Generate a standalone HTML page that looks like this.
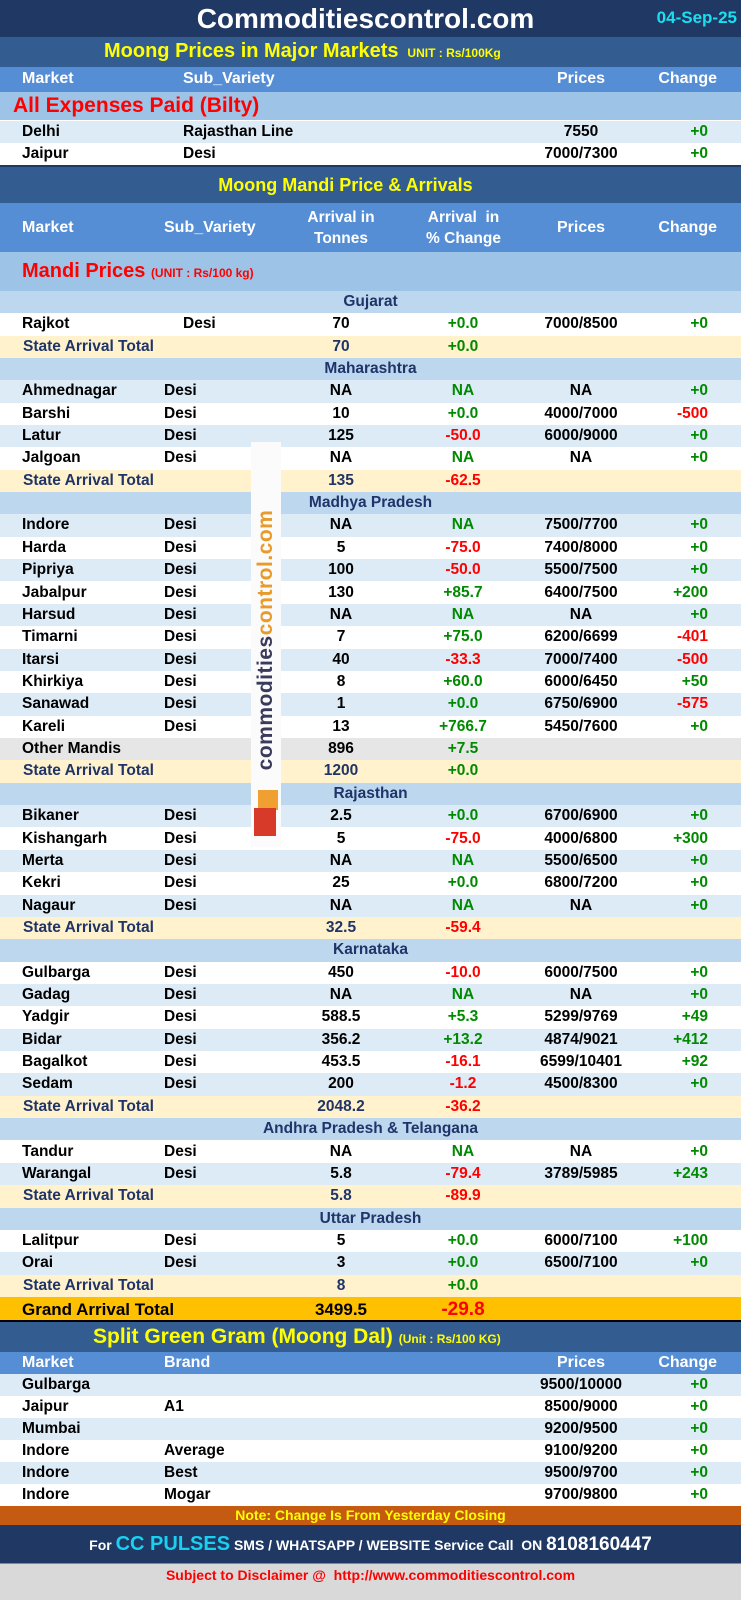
<!DOCTYPE html>
<html><head><meta charset="utf-8"><style>
*{margin:0;padding:0;box-sizing:border-box}
body{width:741px;height:1600px;position:relative;background:#fff;font-family:"Liberation Sans",Arial,sans-serif;font-weight:bold;overflow:hidden}
.b{position:absolute;left:0;width:741px}
.r{position:absolute;left:0;width:741px;height:22.4px;font-size:15.5px;line-height:22.4px;color:#000}
.r span{position:absolute;top:0;white-space:nowrap}
.m{left:22px}.s{left:164px}.s2{left:183px}
.a{left:271px;width:140px;text-align:center}
.p{left:393px;width:140px;text-align:center}
.pr{left:506px;width:150px;text-align:center}
.c{left:620px;width:88px;text-align:right}
.hp{left:506px;width:150px;text-align:center}
.hc{left:620px;width:97px;text-align:right}
.g{color:#008a00}.d{color:#ff0000}.n{color:#1f3468}
.W{background:#fff}.L{background:#ddebf7}.T{background:#fff2cc}.H{background:#bdd7ee}.G{background:#e7e6e6}
.H span{left:0;width:741px;text-align:center;color:#1f3468}
.hd{color:#fff;font-size:16px}
</style></head><body>
<div class="b" style="top:0;height:37px;background:#203864"></div>
<div class="b" style="top:2px;text-align:center;color:#fff;font-size:28px;line-height:34px;padding-right:10px">Commoditiescontrol.com</div>
<div style="position:absolute;right:4px;top:8px;color:#19e0f0;font-size:17px">04-Sep-25</div>
<div class="b" style="top:37px;height:30px;background:#335c91"></div>
<div style="position:absolute;left:104px;top:40px;color:#ffff00;font-size:20px">Moong Prices in Major Markets <span style="font-size:12px">&nbsp;UNIT : Rs/100Kg</span></div>
<div class="b" style="top:67px;height:25px;background:#568ed6"></div>
<div class="r hd" style="top:68px"><span class="m">Market</span><span class="s2">Sub_Variety</span><span class="hp">Prices</span><span class="hc">Change</span></div>
<div class="b" style="top:92px;height:28px;background:#9dc3e6"></div>
<div style="position:absolute;left:13px;top:94px;color:#ff0000;font-size:21px">All Expenses Paid (Bilty)</div>
<div class="r L" style="top:121px"><span class="m">Delhi</span><span class="s2">Rajasthan Line</span><span class="pr">7550</span><span class="c g">+0</span></div>
<div class="r W" style="top:143px"><span class="m">Jaipur</span><span class="s2">Desi</span><span class="pr">7000/7300</span><span class="c g">+0</span></div>
<div class="b" style="top:165px;height:2px;background:#203864"></div>
<div class="b" style="top:167px;height:36px;background:#335c91"></div>
<div class="b" style="top:175px;text-align:center;color:#ffff00;font-size:18px;padding-right:50px">Moong Mandi Price &amp; Arrivals</div>
<div class="b" style="top:203px;height:49px;background:#568ed6"></div>
<div class="r hd" style="top:217px"><span class="m">Market</span><span class="s">Sub_Variety</span><span class="hp">Prices</span><span class="hc">Change</span></div>
<div class="hd" style="position:absolute;left:281px;width:120px;top:207px;text-align:center;line-height:21px;font-size:15.5px">Arrival in<br>Tonnes</div>
<div class="hd" style="position:absolute;left:396px;width:135px;top:207px;text-align:center;line-height:21px;font-size:15.5px">Arrival&nbsp; in<br>% Change</div>
<div class="b" style="top:252px;height:39px;background:#9dc3e6"></div>
<div style="position:absolute;left:22px;top:260px;color:#ff0000;font-size:20px">Mandi Prices <span style="font-size:12px">(UNIT : Rs/100 kg)</span></div>

<div class="r H" style="top:290.8px"><span>Gujarat</span></div>
<div class="r W" style="top:313.2px"><span class="m">Rajkot</span><span class="s2">Desi</span><span class="a">70</span><span class="p g">+0.0</span><span class="pr">7000/8500</span><span class="c g">+0</span></div>
<div class="r T" style="top:335.5px"><span class="m n" style="left:23px">State Arrival Total</span><span class="a n">70</span><span class="p g">+0.0</span></div>
<div class="r H" style="top:357.9px"><span>Maharashtra</span></div>
<div class="r L" style="top:380.3px"><span class="m">Ahmednagar</span><span class="s">Desi</span><span class="a">NA</span><span class="p g">NA</span><span class="pr">NA</span><span class="c g">+0</span></div>
<div class="r W" style="top:402.6px"><span class="m">Barshi</span><span class="s">Desi</span><span class="a">10</span><span class="p g">+0.0</span><span class="pr">4000/7000</span><span class="c d">-500</span></div>
<div class="r L" style="top:425px"><span class="m">Latur</span><span class="s">Desi</span><span class="a">125</span><span class="p d">-50.0</span><span class="pr">6000/9000</span><span class="c g">+0</span></div>
<div class="r W" style="top:447.3px"><span class="m">Jalgoan</span><span class="s">Desi</span><span class="a">NA</span><span class="p g">NA</span><span class="pr">NA</span><span class="c g">+0</span></div>
<div class="r T" style="top:469.7px"><span class="m n" style="left:23px">State Arrival Total</span><span class="a n">135</span><span class="p d">-62.5</span></div>
<div class="r H" style="top:492.1px"><span>Madhya Pradesh</span></div>
<div class="r L" style="top:514.4px"><span class="m">Indore</span><span class="s">Desi</span><span class="a">NA</span><span class="p g">NA</span><span class="pr">7500/7700</span><span class="c g">+0</span></div>
<div class="r W" style="top:536.8px"><span class="m">Harda</span><span class="s">Desi</span><span class="a">5</span><span class="p d">-75.0</span><span class="pr">7400/8000</span><span class="c g">+0</span></div>
<div class="r L" style="top:559.1px"><span class="m">Pipriya</span><span class="s">Desi</span><span class="a">100</span><span class="p d">-50.0</span><span class="pr">5500/7500</span><span class="c g">+0</span></div>
<div class="r W" style="top:581.5px"><span class="m">Jabalpur</span><span class="s">Desi</span><span class="a">130</span><span class="p g">+85.7</span><span class="pr">6400/7500</span><span class="c g">+200</span></div>
<div class="r L" style="top:603.9px"><span class="m">Harsud</span><span class="s">Desi</span><span class="a">NA</span><span class="p g">NA</span><span class="pr">NA</span><span class="c g">+0</span></div>
<div class="r W" style="top:626.2px"><span class="m">Timarni</span><span class="s">Desi</span><span class="a">7</span><span class="p g">+75.0</span><span class="pr">6200/6699</span><span class="c d">-401</span></div>
<div class="r L" style="top:648.6px"><span class="m">Itarsi</span><span class="s">Desi</span><span class="a">40</span><span class="p d">-33.3</span><span class="pr">7000/7400</span><span class="c d">-500</span></div>
<div class="r W" style="top:670.9px"><span class="m">Khirkiya</span><span class="s">Desi</span><span class="a">8</span><span class="p g">+60.0</span><span class="pr">6000/6450</span><span class="c g">+50</span></div>
<div class="r L" style="top:693.3px"><span class="m">Sanawad</span><span class="s">Desi</span><span class="a">1</span><span class="p g">+0.0</span><span class="pr">6750/6900</span><span class="c d">-575</span></div>
<div class="r W" style="top:715.7px"><span class="m">Kareli</span><span class="s">Desi</span><span class="a">13</span><span class="p g">+766.7</span><span class="pr">5450/7600</span><span class="c g">+0</span></div>
<div class="r G" style="top:738px"><span class="m">Other Mandis</span><span class="a">896</span><span class="p g">+7.5</span></div>
<div class="r T" style="top:760.4px"><span class="m n" style="left:23px">State Arrival Total</span><span class="a n">1200</span><span class="p g">+0.0</span></div>
<div class="r H" style="top:782.7px"><span>Rajasthan</span></div>
<div class="r L" style="top:805.1px"><span class="m">Bikaner</span><span class="s">Desi</span><span class="a">2.5</span><span class="p g">+0.0</span><span class="pr">6700/6900</span><span class="c g">+0</span></div>
<div class="r W" style="top:827.5px"><span class="m">Kishangarh</span><span class="s">Desi</span><span class="a">5</span><span class="p d">-75.0</span><span class="pr">4000/6800</span><span class="c g">+300</span></div>
<div class="r L" style="top:849.8px"><span class="m">Merta</span><span class="s">Desi</span><span class="a">NA</span><span class="p g">NA</span><span class="pr">5500/6500</span><span class="c g">+0</span></div>
<div class="r W" style="top:872.2px"><span class="m">Kekri</span><span class="s">Desi</span><span class="a">25</span><span class="p g">+0.0</span><span class="pr">6800/7200</span><span class="c g">+0</span></div>
<div class="r L" style="top:894.5px"><span class="m">Nagaur</span><span class="s">Desi</span><span class="a">NA</span><span class="p g">NA</span><span class="pr">NA</span><span class="c g">+0</span></div>
<div class="r T" style="top:916.9px"><span class="m n" style="left:23px">State Arrival Total</span><span class="a n">32.5</span><span class="p d">-59.4</span></div>
<div class="r H" style="top:939.3px"><span>Karnataka</span></div>
<div class="r W" style="top:961.6px"><span class="m">Gulbarga</span><span class="s">Desi</span><span class="a">450</span><span class="p d">-10.0</span><span class="pr">6000/7500</span><span class="c g">+0</span></div>
<div class="r L" style="top:984px"><span class="m">Gadag</span><span class="s">Desi</span><span class="a">NA</span><span class="p g">NA</span><span class="pr">NA</span><span class="c g">+0</span></div>
<div class="r W" style="top:1006.3px"><span class="m">Yadgir</span><span class="s">Desi</span><span class="a">588.5</span><span class="p g">+5.3</span><span class="pr">5299/9769</span><span class="c g">+49</span></div>
<div class="r L" style="top:1028.7px"><span class="m">Bidar</span><span class="s">Desi</span><span class="a">356.2</span><span class="p g">+13.2</span><span class="pr">4874/9021</span><span class="c g">+412</span></div>
<div class="r W" style="top:1051.1px"><span class="m">Bagalkot</span><span class="s">Desi</span><span class="a">453.5</span><span class="p d">-16.1</span><span class="pr">6599/10401</span><span class="c g">+92</span></div>
<div class="r L" style="top:1073.4px"><span class="m">Sedam</span><span class="s">Desi</span><span class="a">200</span><span class="p d">-1.2</span><span class="pr">4500/8300</span><span class="c g">+0</span></div>
<div class="r T" style="top:1095.8px"><span class="m n" style="left:23px">State Arrival Total</span><span class="a n">2048.2</span><span class="p d">-36.2</span></div>
<div class="r H" style="top:1118.1px"><span>Andhra Pradesh &amp; Telangana</span></div>
<div class="r W" style="top:1140.5px"><span class="m">Tandur</span><span class="s">Desi</span><span class="a">NA</span><span class="p g">NA</span><span class="pr">NA</span><span class="c g">+0</span></div>
<div class="r L" style="top:1162.9px"><span class="m">Warangal</span><span class="s">Desi</span><span class="a">5.8</span><span class="p d">-79.4</span><span class="pr">3789/5985</span><span class="c g">+243</span></div>
<div class="r T" style="top:1185.2px"><span class="m n" style="left:23px">State Arrival Total</span><span class="a n">5.8</span><span class="p d">-89.9</span></div>
<div class="r H" style="top:1207.6px"><span>Uttar Pradesh</span></div>
<div class="r W" style="top:1229.9px"><span class="m">Lalitpur</span><span class="s">Desi</span><span class="a">5</span><span class="p g">+0.0</span><span class="pr">6000/7100</span><span class="c g">+100</span></div>
<div class="r L" style="top:1252.3px"><span class="m">Orai</span><span class="s">Desi</span><span class="a">3</span><span class="p g">+0.0</span><span class="pr">6500/7100</span><span class="c g">+0</span></div>
<div class="r T" style="top:1274.7px"><span class="m n" style="left:23px">State Arrival Total</span><span class="a n">8</span><span class="p g">+0.0</span></div>
<div class="r" style="top:1297px;height:25px;line-height:25px;background:#ffc000;font-size:17px;border-bottom:2px solid #000"><span class="m">Grand Arrival Total</span><span class="a">3499.5</span><span class="p d" style="font-size:19px">-29.8</span></div>

<div style="position:absolute;left:251px;top:442px;width:30px;height:405px;background:#fbfbfb"></div>
<div style="position:absolute;left:266px;top:640px;width:0;height:0"><div style="position:absolute;transform:translate(-50%,-50%) rotate(-90deg);white-space:nowrap;font-size:21px;color:#e89a2a;letter-spacing:0.5px"><span style="color:#3a3a5a">commodities</span>control.com</div></div>
<div style="position:absolute;left:258px;top:790px;width:20px;height:20px;background:#f0a030"></div>
<div style="position:absolute;left:254px;top:808px;width:22px;height:28px;background:#d83a2a"></div>

<div class="b" style="top:1322px;height:30px;background:#335c91"></div>
<div style="position:absolute;left:93px;top:1325px;color:#ffff00;font-size:21px">Split Green Gram (Moong Dal) <span style="font-size:12px">(Unit : Rs/100 KG)</span></div>
<div class="b" style="top:1352px;height:22px;background:#568ed6"></div>
<div class="r hd" style="top:1352px"><span class="m">Market</span><span class="s">Brand</span><span class="hp">Prices</span><span class="hc">Change</span></div>
<div class="r L" style="top:1374px"><span class="m">Gulbarga</span><span class="pr">9500/10000</span><span class="c g">+0</span></div>
<div class="r W" style="top:1396px"><span class="m">Jaipur</span><span class="s">A1</span><span class="pr">8500/9000</span><span class="c g">+0</span></div>
<div class="r L" style="top:1418px"><span class="m">Mumbai</span><span class="pr">9200/9500</span><span class="c g">+0</span></div>
<div class="r W" style="top:1440px"><span class="m">Indore</span><span class="s">Average</span><span class="pr">9100/9200</span><span class="c g">+0</span></div>
<div class="r L" style="top:1462px"><span class="m">Indore</span><span class="s">Best</span><span class="pr">9500/9700</span><span class="c g">+0</span></div>
<div class="r W" style="top:1484px"><span class="m">Indore</span><span class="s">Mogar</span><span class="pr">9700/9800</span><span class="c g">+0</span></div>
<div class="b" style="top:1506px;height:19px;background:#c55a11;color:#ffff00;text-align:center;font-size:14px;line-height:19px">Note: Change Is From Yesterday Closing</div>
<div class="b" style="top:1525px;height:38px;background:#203864;color:#fff;text-align:center;font-size:14px;line-height:38px">For <span style="color:#19d0f0;font-size:20px">CC PULSES</span> SMS / WHATSAPP / WEBSITE Service Call &nbsp;ON <span style="font-size:19px">8108160447</span></div>
<div class="b" style="top:1563px;height:37px;background:#d9d9d9;color:#ff0000;text-align:center;font-size:14px;line-height:22px;border-top:1px solid #888">Subject to Disclaimer @ &nbsp;http://www.commoditiescontrol.com</div>
</body></html>
